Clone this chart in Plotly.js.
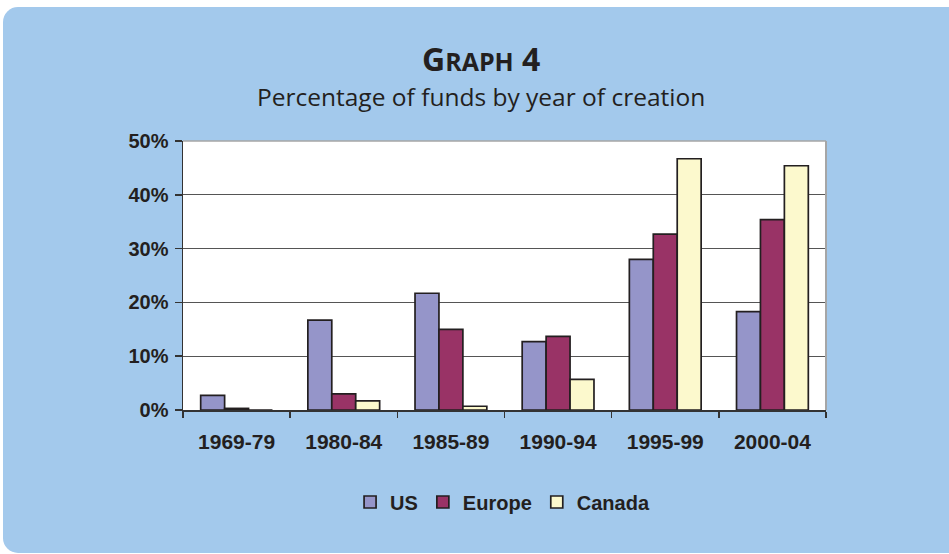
<!DOCTYPE html>
<html>
<head>
<meta charset="utf-8">
<script src="https://cdn.plot.ly/plotly-3.0.1.min.js"></script>
<style>
  html, body { margin: 0; padding: 0; background: #ffffff; overflow: hidden; }
  #panel { position: absolute; left: 3px; top: 7px; width: 990px; height: 546px;
           border-radius: 15px; background: #A3C9EC; }
  #chart { position: absolute; left: 0; top: 0; width: 949px; height: 554px; }
</style>
</head>
<body>
<div id="panel"></div>
<div id="chart"></div>
<script>
const categories = ["1969-79", "1980-84", "1985-89", "1990-94", "1995-99", "2000-04"];
const usValues     = [2.7, 16.7, 21.7, 12.7, 28.0, 18.3];
const europeValues = [0.3, 3.0, 15.0, 13.7, 32.7, 35.4];
const canadaValues = [0.0, 1.7, 0.7, 5.7, 46.7, 45.4];
const yTickVals   = [0, 10, 20, 30, 40, 50];
const yTickLabels = ["0%", "10%", "20%", "30%", "40%", "50%"];
const titleMain = "G<span style=\"font-size:25px\">RAPH</span> 4";
const titleSub  = "Percentage of funds by year of creation";

const outline = { color: "#231f20", width: 1.7 };
const traces = [
  { type: "bar", name: "US", x: categories, y: usValues,
    marker: { color: "#9595C9", line: outline } },
  { type: "bar", name: "Europe", x: categories, y: europeValues,
    marker: { color: "#993366", line: outline } },
  { type: "bar", name: "Canada", x: categories, y: canadaValues,
    marker: { color: "#FCF9CD", line: outline } }
];

const tickFont = { family: "Liberation Sans, Arial, sans-serif", size: 20, color: "#231f20", weight: "bold" };

const layout = {
  width: 949, height: 554,
  margin: { l: 183, r: 123, t: 141, b: 144, pad: 0 },
  paper_bgcolor: "rgba(0,0,0,0)",
  plot_bgcolor: "#ffffff",
  barmode: "group",
  bargap: 0.33,
  bargroupgap: 0,
  showlegend: true,
  legend: {
    orientation: "h", x: 0.497, xanchor: "center", y: -0.342, yanchor: "middle",
    font: tickFont, bgcolor: "rgba(0,0,0,0)", itemwidth: 30, traceorder: "normal"
  },
  xaxis: {
    type: "category",
    showline: true, linecolor: "#333333", linewidth: 1.5,
    ticks: "outside", tickson: "boundaries", ticklen: 6, tickcolor: "#333333", tickwidth: 1.5,
    tickfont: Object.assign({}, tickFont, { size: 21 }),
    ticklabelstandoff: 12,
    showgrid: false, fixedrange: true
  },
  yaxis: {
    range: [0, 50],
    tickvals: yTickVals, ticktext: yTickLabels,
    showline: true, linecolor: "#333333", linewidth: 1.5,
    ticks: "outside", ticklen: 7, tickcolor: "#333333", tickwidth: 1.5,
    tickfont: tickFont, ticklabelstandoff: 2,
    showgrid: true, gridcolor: "#555555", gridwidth: 1,
    zeroline: false, fixedrange: true
  },
  shapes: [
    { type: "line", xref: "paper", yref: "paper", x0: 0, x1: 1, y0: 1, y1: 1,
      line: { color: "#a6a6a6", width: 1.5 }, layer: "above" },
    { type: "line", xref: "paper", yref: "paper", x0: 1, x1: 1, y0: 0, y1: 1,
      line: { color: "#a6a6a6", width: 2 }, layer: "above" }
  ],
  annotations: [
    { text: titleMain, xref: "paper", yref: "paper", x: 0.4635, y: 1.307,
      xanchor: "center", yanchor: "middle", showarrow: false,
      font: { family: "Open Sans, Lato, sans-serif", size: 32, color: "#231f20", weight: "bold" } },
    { text: titleSub, xref: "paper", yref: "paper", x: 0.4635, y: 1.165,
      xanchor: "center", yanchor: "middle", showarrow: false,
      font: { family: "Open Sans, Lato, sans-serif", size: 24.5, color: "#231f20" } }
  ]
};

Plotly.newPlot("chart", traces, layout, { displayModeBar: false, staticPlot: true });
</script>
</body>
</html>
